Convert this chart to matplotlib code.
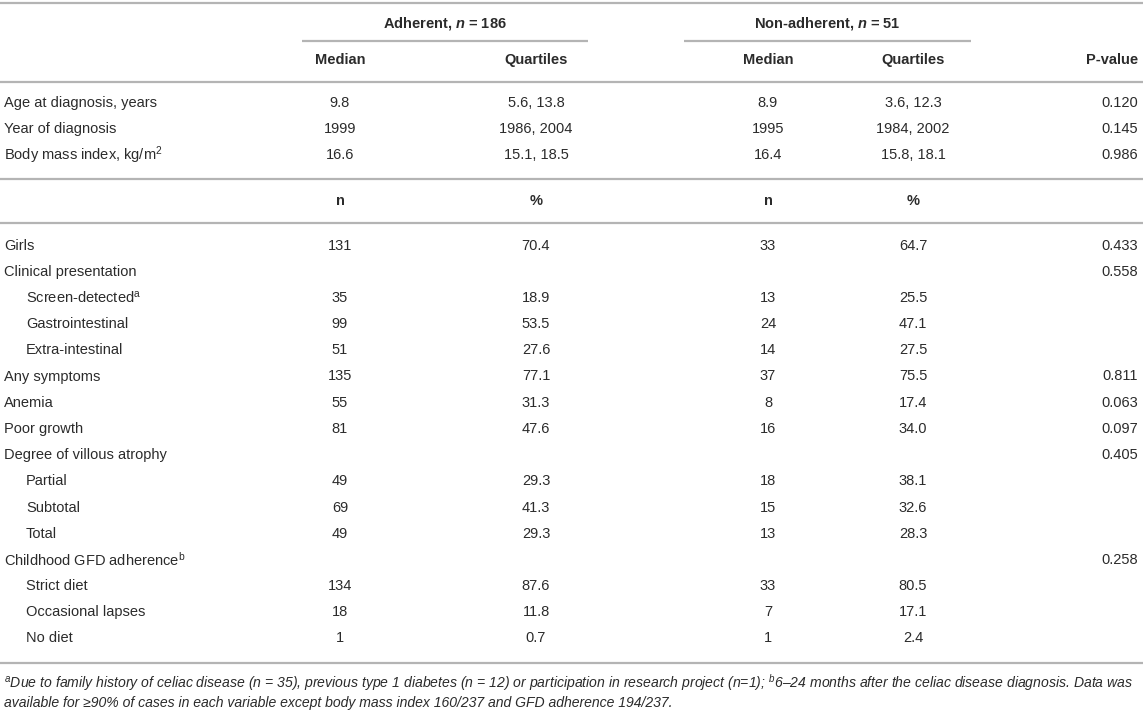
import matplotlib
matplotlib.use("Agg")
import matplotlib.pyplot as plt

plt.rcParams['font.family'] = ['Liberation Sans', 'DejaVu Sans']
plt.rcParams['mathtext.fontset'] = 'custom'
plt.rcParams['mathtext.rm'] = 'Liberation Sans'
plt.rcParams['mathtext.it'] = 'Liberation Sans:italic'
plt.rcParams['mathtext.bf'] = 'Liberation Sans:bold'
plt.rcParams['mathtext.bfit'] = 'Liberation Sans:bold:italic'

# ---- data ----
group_titles = [r"Adherent, $\mathbfit{n}$ = 186", r"Non-adherent, $\mathbfit{n}$ = 51"]
sub_head_1 = ["Median", "Quartiles", "Median", "Quartiles", "P-value"]
sub_head_2 = ["n", "%", "n", "%", ""]

cont_labels = ["Age at diagnosis, years", "Year of diagnosis", r"Body mass index, kg/m$^{2}$"]
cont_adh_med = ["9.8", "1999", "16.6"]
cont_adh_q = ["5.6, 13.8", "1986, 2004", "15.1, 18.5"]
cont_non_med = ["8.9", "1995", "16.4"]
cont_non_q = ["3.6, 12.3", "1984, 2002", "15.8, 18.1"]
cont_p = ["0.120", "0.145", "0.986"]

cat_labels = ["Girls", "Clinical presentation", r"Screen-detected$^{\mathrm{a}}$",
              "Gastrointestinal", "Extra-intestinal", "Any symptoms", "Anemia",
              "Poor growth", "Degree of villous atrophy", "Partial", "Subtotal",
              "Total", r"Childhood GFD adherence$^{\mathrm{b}}$", "Strict diet",
              "Occasional lapses", "No diet"]
cat_indent = [0, 0, 1, 1, 1, 0, 0, 0, 0, 1, 1, 1, 0, 1, 1, 1]
cat_adh_n = ["131", "", "35", "99", "51", "135", "55", "81", "", "49", "69", "49", "", "134", "18", "1"]
cat_adh_pct = ["70.4", "", "18.9", "53.5", "27.6", "77.1", "31.3", "47.6", "", "29.3", "41.3", "29.3", "", "87.6", "11.8", "0.7"]
cat_non_n = ["33", "", "13", "24", "14", "37", "8", "16", "", "18", "15", "13", "", "33", "7", "1"]
cat_non_pct = ["64.7", "", "25.5", "47.1", "27.5", "75.5", "17.4", "34.0", "", "38.1", "32.6", "28.3", "", "80.5", "17.1", "2.4"]
cat_p = ["0.433", "0.558", "", "", "", "0.811", "0.063", "0.097", "0.405", "", "", "", "0.258", "", "", ""]

footnote = [r"$^{a}$Due to family history of celiac disease ($n$ = 35), previous type 1 diabetes ($n$ = 12) or participation in research project ($n$=1); $^{b}$6–24 months after the celiac disease diagnosis. Data was",
            "available for ≥90% of cases in each variable except body mass index 160/237 and GFD adherence 194/237."]

# ---- layout (pixel coords) ----
W, H = 1143, 712
col_x = [340, 536, 768, 913, 1138]
col_ha = ["center", "center", "center", "center", "right"]
grp_span = [(302, 588), (684, 971)]
x_label = 4
x_indent = 26
txt_color = "#2b2b2b"
rule_color = "#b4b4b4"
fs = 10.5
step = 26.2

fig = plt.figure(figsize=(W / 100, H / 100), dpi=100)
ax = fig.add_axes([0, 0, 1, 1])
ax.set_xlim(0, W)
ax.set_ylim(H, 0)
ax.axis("off")


def rule(y, x0=0, x1=W):
    ax.plot([x0, x1], [y, y], color=rule_color, lw=1.6, solid_capstyle="butt")


def row(y, cells, bold=False):
    for x, ha, t in zip(col_x, col_ha, cells):
        if t:
            ax.text(x, y, t, ha=ha, va="center", fontsize=fs, color=txt_color,
                    fontweight="bold" if bold else "normal")


rule(3)
for (x0, x1), title in zip(grp_span, group_titles):
    ax.text((x0 + x1) / 2, 24, title, ha="center", va="center",
            fontsize=fs, fontweight="bold", color=txt_color)
    rule(41, x0, x1)
row(60, sub_head_1, bold=True)
rule(82)

y0 = 103
for i, lab in enumerate(cont_labels):
    y = y0 + i * step
    ax.text(x_label, y, lab, ha="left", va="center", fontsize=fs, color=txt_color)
    row(y, [cont_adh_med[i], cont_adh_q[i], cont_non_med[i], cont_non_q[i], cont_p[i]])

rule(179)
row(201, sub_head_2, bold=True)
rule(223)

y1 = 245.5
for i, lab in enumerate(cat_labels):
    y = y1 + i * step
    ax.text(x_indent if cat_indent[i] else x_label, y, lab, ha="left", va="center",
            fontsize=fs, color=txt_color)
    row(y, [cat_adh_n[i], cat_adh_pct[i], cat_non_n[i], cat_non_pct[i], cat_p[i]])

rule(663)

for i, line in enumerate(footnote):
    ax.text(x_label, 683 + i * 20.5, line, ha="left", va="center", fontsize=10.1,
            style="italic", color=txt_color,
            family=["Liberation Sans Narrow", "Liberation Sans", "DejaVu Sans"])

fig.savefig("out.png", dpi=100)
